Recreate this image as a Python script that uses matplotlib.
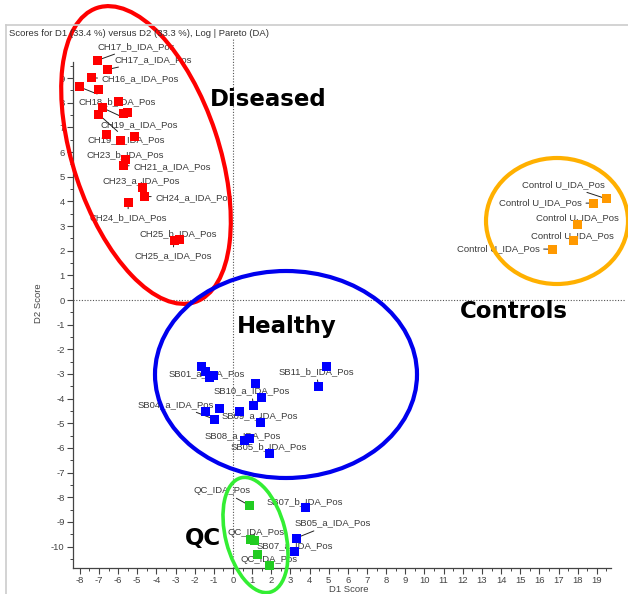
import matplotlib
matplotlib.use('Agg')
import matplotlib.pyplot as plt
from matplotlib.patches import Ellipse

plt.rcParams['font.family'] = ['Liberation Sans', 'DejaVu Sans']
plt.rcParams['axes.unicode_minus'] = False

# ---------------- data ----------------
diseased_x = [-7.09, -6.56, -7.38, -8.04, -7.03, -5.99, -6.80, -7.00, -5.73, -5.50,
              -6.63, -5.90, -5.12, -5.59, -5.73, -4.74, -4.63, -5.47, -3.08, -2.80]
diseased_y = [9.72, 9.35, 9.01, 8.65, 8.54, 8.06, 7.79, 7.52, 7.55, 7.61,
              6.71, 6.48, 6.64, 5.72, 5.45, 4.58, 4.20, 3.96, 2.41, 2.47]
diseased_labels = ["CH17_b_IDA_Pos", "CH17_a_IDA_Pos", "CH16_a_IDA_Pos", "CH18_b_IDA_Pos",
                   None, None, "CH19_a_IDA_Pos", "CH19_b_IDA_Pos", None, None,
                   None, None, None, "CH23_b_IDA_Pos", "CH21_a_IDA_Pos", "CH23_a_IDA_Pos",
                   "CH24_a_IDA_Pos", "CH24_b_IDA_Pos", "CH25_a_IDA_Pos", "CH25_b_IDA_Pos"]

healthy_x = [-1.63, -1.41, -1.24, -1.03, 4.86, 4.46, 1.18, 1.51, 1.06, -1.43,
             -0.68, -0.94, 0.33, 1.41, 0.59, 0.85, 1.90, 3.76, 3.29, 3.20]
healthy_y = [-2.68, -2.89, -3.14, -3.08, -2.71, -3.50, -3.39, -3.96, -4.27, -4.51,
             -4.40, -4.85, -4.51, -4.95, -5.69, -5.62, -6.21, -8.43, -9.66, -10.19]
healthy_labels = [None, None, "SB01_a_IDA_Pos", None, None, "SB11_b_IDA_Pos", None, None,
                  "SB10_a_IDA_Pos", None, None, "SB04_a_IDA_Pos", None, "SB09_a_IDA_Pos",
                  "SB08_a_IDA_Pos", None, "SB05_b_IDA_Pos", "SB07_b_IDA_Pos",
                  "SB05_a_IDA_Pos", "SB07_a_IDA_Pos"]

qc_x = [0.85, 0.89, 1.12, 1.27, 1.88]
qc_y = [-8.33, -9.72, -9.75, -10.34, -10.77]
qc_labels = ["QC_IDA_Pos", "QC_IDA_Pos", None, None, "QC_IDA_Pos"]

control_x = [19.48, 18.85, 18.00, 17.77, 16.69]
control_y = [4.11, 3.93, 3.08, 2.41, 2.06]
control_labels = ["Control U_IDA_Pos"] * 5

x_ticks = list(range(-8, 20))
y_ticks = list(range(-10, 10))
title = "Scores for D1 (33.4 %) versus D2 (33.3 %), Log | Pareto (DA)"

# ---------------- layout (label offsets in pixels, right/up positive) ----------------
diseased_off = [(0, 14), (7, 10), (10, -1), (-1, -15), None, None, (-2, -17), (-11, -25),
                None, None, None, None, None, (-39, 4), (10, -1), (-40, 6), (11, -1),
                (-39, -15), (-40, -15), (-40, 5)]
healthy_off = [None, None, (-41, 4), None, None, (-40, 15), None, None, (-40, 15), None,
               None, (-77, 15), None, (-38, 6), (-40, 5), None, (-39, 6), (-38, 6),
               (-1, 15), (-38, 5)]
qc_off = [(-56, 15), (-23, 7), None, None, (-29, 6)]
control_off = [(-84, 14), (-95, 0), (-42, 6), (-42, 5), (-96, 1)]

W, H = 628, 594
fig = plt.figure(figsize=(W / 100, H / 100), dpi=100)

def fx(px):
    return px / W

def fy(py):
    return 1 - py / H

X0, XS = 233.0, 19.15
Y0, YS = 300.0, 24.65

ax = fig.add_axes([fx(73), fy(568), fx(625) - fx(73), fy(38) - fy(568)])
ax.set_xlim((73 - X0) / XS, (625 - X0) / XS)
ax.set_ylim((Y0 - 568) / YS, (Y0 - 38) / YS)
for s in ['top', 'right']:
    ax.spines[s].set_visible(False)
ax.spines['left'].set_bounds((Y0 - 568) / YS, (Y0 - 62) / YS)
ax.spines['bottom'].set_bounds((73 - X0) / XS, (611 - X0) / XS)
for s in ['left', 'bottom']:
    ax.spines[s].set_color('#444444')
    ax.spines[s].set_linewidth(0.9)

ax.set_xticks(x_ticks)
ax.set_yticks(y_ticks)
ax.set_xticks([v + 0.5 for v in x_ticks], minor=True)
ax.set_yticks([v + 0.5 for v in y_ticks] + [-10.5], minor=True)
ax.tick_params(which='major', length=4, width=0.8, color='#444444',
               labelcolor='#444444', labelsize=6.8, pad=2)
ax.tick_params(which='minor', length=2, width=0.7, color='#444444')
ax.set_xlabel("D1 Score", fontsize=6.8, color='#444444', labelpad=0)
ax.set_ylabel("D2 Score", fontsize=6.8, color='#444444', labelpad=6)

ax.axhline(0, color='#555555', lw=0.8, ls=(0, (1, 1.5)), zorder=1)
ax.axvline(0, color='#555555', lw=0.8, ls=(0, (1, 1.5)), zorder=1)

def plot_group(xs, ys, labels, offs, color):
    ax.scatter(xs, ys, marker='s', s=42, c=color, edgecolors='none', zorder=3, clip_on=False)
    for x, y, lab, off in zip(xs, ys, labels, offs):
        if lab is None:
            continue
        ax.annotate(lab, xy=(x, y), xytext=off, textcoords='offset pixels',
                    ha='left', va='center', fontsize=6.8, color='#3a3a3a', zorder=2,
                    annotation_clip=False,
                    arrowprops=dict(arrowstyle='-', color='#222222', lw=0.7,
                                    shrinkA=1, shrinkB=0))

plot_group(diseased_x, diseased_y, diseased_labels, diseased_off, '#ff0000')
plot_group(healthy_x, healthy_y, healthy_labels, healthy_off, '#0000ff')
plot_group(qc_x, qc_y, qc_labels, qc_off, '#22cc22')
plot_group(control_x, control_y, control_labels, control_off, '#ff9900')

# overlay in pixel coordinates for frame, title, group names and circles
ov = fig.add_axes([0, 0, 1, 1])
ov.set_xlim(0, W)
ov.set_ylim(H, 0)
ov.axis('off')
ov.patch.set_visible(False)
ov.set_zorder(5)

ov.plot([6, 6], [25, H], color='#cccccc', lw=1.2)
ov.plot([6, W], [25, 25], color='#cccccc', lw=1.2)
ov.text(9, 33, title, fontsize=6.8, color='#333333', va='center', ha='left')

big = dict(fontsize=16.5, fontweight='bold', family='DejaVu Sans', va='center', ha='left', color='black')
ov.text(210, 100, "Diseased", **big)
ov.text(237, 327, "Healthy", **big)
ov.text(460, 312, "Controls", **big)
ov.text(185, 538, "QC", **big)

ov.add_patch(Ellipse((146, 155), 146, 310, angle=-18.4, fill=False, ec='#ff0000', lw=3.0))
ov.add_patch(Ellipse((286, 374.5), 262, 207, fill=False, ec='#0000ee', lw=3.0))
ov.add_patch(Ellipse((557, 221), 142, 126, fill=False, ec='#ffb000', lw=3.0))
ov.add_patch(Ellipse((255.5, 535), 60, 118, angle=-14.3, fill=False, ec='#33ee33', lw=2.6))

fig.savefig('out.png', dpi=100)
